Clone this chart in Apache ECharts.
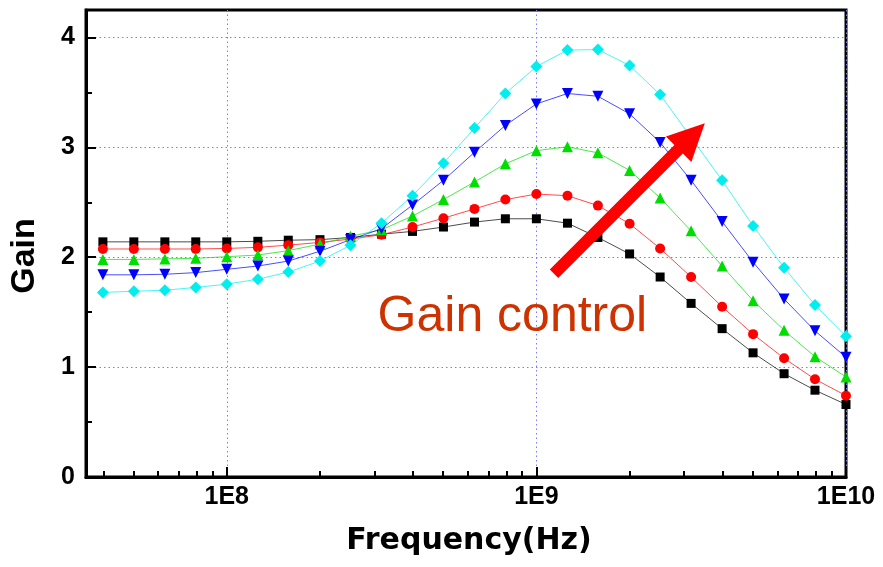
<!DOCTYPE html>
<html>
<head>
<meta charset="utf-8">
<script src="https://cdn.jsdelivr.net/npm/echarts@6/dist/echarts.min.js"></script>
<style>
html,body{margin:0;padding:0;background:#ffffff;}
#chart{width:883px;height:567px;}
</style>
</head>
<body>
<div id="chart"></div>
<script>
// ---- data ----
const frequency = [3.98e7, 5.01e7, 6.31e7, 7.94e7, 1.0e8, 1.26e8, 1.58e8, 2.0e8, 2.51e8, 3.16e8,
                   3.98e8, 5.01e8, 6.31e8, 7.94e8, 1.0e9, 1.26e9, 1.58e9, 2.0e9, 2.51e9, 3.16e9,
                   3.98e9, 5.01e9, 6.31e9, 7.94e9, 1.0e10];
const gainBlack = [2.14, 2.14, 2.14, 2.14, 2.14, 2.145, 2.155, 2.16, 2.18, 2.21,
                   2.235, 2.275, 2.32, 2.35, 2.35, 2.31, 2.18, 2.03, 1.82, 1.58,
                   1.35, 1.13, 0.94, 0.79, 0.66];
const gainRed   = [2.075, 2.075, 2.075, 2.075, 2.08, 2.09, 2.11, 2.135, 2.165, 2.205,
                   2.275, 2.355, 2.44, 2.525, 2.575, 2.56, 2.47, 2.305, 2.08, 1.82,
                   1.55, 1.30, 1.08, 0.89, 0.74];
const gainGreen = [1.98, 1.98, 1.985, 1.99, 2.005, 2.02, 2.06, 2.12, 2.19, 2.25,
                   2.375, 2.525, 2.685, 2.85, 2.97, 3.005, 2.95, 2.79, 2.54, 2.24,
                   1.92, 1.605, 1.335, 1.095, 0.91];
const gainBlue  = [1.84, 1.84, 1.845, 1.86, 1.89, 1.92, 1.965, 2.055, 2.16, 2.26,
                   2.475, 2.70, 2.955, 3.20, 3.395, 3.49, 3.465, 3.305, 3.045, 2.70,
                   2.325, 1.955, 1.62, 1.33, 1.09];
const gainCyan  = [1.68, 1.69, 1.70, 1.725, 1.755, 1.80, 1.865, 1.965, 2.11, 2.31,
                   2.56, 2.855, 3.175, 3.49, 3.735, 3.885, 3.89, 3.745, 3.48, 3.09,
                   2.70, 2.285, 1.905, 1.565, 1.28];
const xMajorTicks = [1e8, 1e9, 1e10];
const xMinorTicks = [4e7, 5e7, 6e7, 7e7, 8e7, 9e7,
                     2e8, 3e8, 4e8, 5e8, 6e8, 7e8, 8e8, 9e8,
                     2e9, 3e9, 4e9, 5e9, 6e9, 7e9, 8e9, 9e9];
const yMajorTicks = [0, 1, 2, 3, 4];
const yMinorTicks = [0.5, 1.5, 2.5, 3.5];
const arrowFrom = [1.14e9, 1.85];
const arrowTo = [3.5e9, 3.22];
const annotationText = 'Gain control';
const annotationAt = [3.07e8, 1.453];

// ---- chart ----
const chart = echarts.init(document.getElementById('chart'), null, {renderer: 'canvas'});
const labelFont = {fontFamily: 'Liberation Sans', fontWeight: 'bold', fontSize: 25, color: '#000'};
const gridLine = {show: true, lineStyle: {color: '#7a7aff', type: [1.5, 3], width: 1}};
const xMin = 3.51e7, xMax = 1e10, yMin = 0, yMax = 4.25;

function pairs(ys) { return frequency.map((f, i) => [f, ys[i]]); }

function mkSeries(name, ys, color, symbol, size, rotate) {
  return {
    name: name, type: 'line', xAxisIndex: 0, yAxisIndex: 0,
    data: pairs(ys), symbol: symbol, symbolSize: size, symbolRotate: rotate || 0,
    showAllSymbol: true,
    itemStyle: {color: color},
    lineStyle: {color: color, width: 1, opacity: 0.7},
    emphasis: {disabled: true}, animation: false
  };
}

const option = {
  animation: false,
  backgroundColor: '#ffffff',
  grid: {left: 85, right: 37, top: 10, bottom: 90, show: true, borderColor: '#000', borderWidth: 3, backgroundColor: 'transparent'},
  xAxis: [
    {
      type: 'log', logBase: 10, min: xMin, max: xMax, position: 'bottom',
      axisLine: {show: true, lineStyle: {color: '#000', width: 3}},
      axisTick: {show: true, inside: true, length: 10, lineStyle: {color: '#000', width: 2}, customValues: xMajorTicks},
      axisLabel: Object.assign({show: true, margin: 8, customValues: xMajorTicks,
        formatter: v => '1E' + Math.round(Math.log10(v))}, labelFont),
      splitLine: gridLine,
      minorTick: {show: false}, minorSplitLine: {show: false},
      name: 'Frequency(Hz)', nameLocation: 'middle', nameGap: 49,
      nameTextStyle: {fontFamily: 'DejaVu Sans', fontWeight: 'bold', fontSize: 30, color: '#000', padding: [0, 0, 0, 6]}
    },
    {
      type: 'log', logBase: 10, min: xMin, max: xMax, position: 'bottom',
      axisLine: {show: false},
      axisTick: {show: true, inside: true, length: 6, lineStyle: {color: '#000', width: 2}, customValues: xMinorTicks},
      axisLabel: {show: false}, splitLine: {show: false}
    }
  ],
  yAxis: [
    {
      type: 'value', min: yMin, max: yMax, position: 'left',
      axisLine: {show: true, lineStyle: {color: '#000', width: 3}},
      axisTick: {show: true, inside: true, length: 10, lineStyle: {color: '#000', width: 2}, customValues: yMajorTicks},
      axisLabel: Object.assign({show: true, margin: 11, customValues: yMajorTicks}, labelFont),
      splitLine: gridLine,
      name: 'Gain', nameLocation: 'middle', nameGap: 44, nameRotate: 90,
      nameTextStyle: {fontFamily: 'Liberation Sans', fontWeight: 'bold', fontSize: 34, color: '#000', padding: [0, 25, 0, 0]}
    },
    {
      type: 'value', min: yMin, max: yMax, position: 'left',
      axisLine: {show: false},
      axisTick: {show: true, inside: true, length: 6, lineStyle: {color: '#000', width: 2}, customValues: yMinorTicks},
      axisLabel: {show: false}, splitLine: {show: false}
    }
  ],
  series: [
    mkSeries('S1', gainBlack, '#000000', 'rect', 9),
    mkSeries('S2', gainRed, '#ff0000', 'circle', 10),
    mkSeries('S3', gainGreen, '#00dd00', 'triangle', 11),
    mkSeries('S4', gainBlue, '#0000ff', 'triangle', 11, 180),
    mkSeries('S5', gainCyan, '#00eeee', 'diamond', 12)
  ]
};
chart.setOption(option);

// ---- annotations positioned through the axes ----
const toPx = p => chart.convertToPixel({xAxisIndex: 0, yAxisIndex: 0}, p);
const T = toPx(arrowFrom), P = toPx(arrowTo);
const dx = P[0] - T[0], dy = P[1] - T[1], len = Math.hypot(dx, dy);
const ux = dx / len, uy = dy / len, nx = -uy, ny = ux;
const headLen = 37, headHalf = 18, shaftHalf = 6;
const B = [P[0] - ux * headLen, P[1] - uy * headLen];
const poly = [
  [T[0] + nx * shaftHalf, T[1] + ny * shaftHalf],
  [B[0] + nx * shaftHalf, B[1] + ny * shaftHalf],
  [B[0] + nx * headHalf, B[1] + ny * headHalf],
  [P[0], P[1]],
  [B[0] - nx * headHalf, B[1] - ny * headHalf],
  [B[0] - nx * shaftHalf, B[1] - ny * shaftHalf],
  [T[0] - nx * shaftHalf, T[1] - ny * shaftHalf]
];
const A = toPx(annotationAt);
chart.setOption({
  graphic: [
    {type: 'polygon', shape: {points: poly}, style: {fill: '#ff0000'}, z: 100, silent: true},
    {type: 'text', x: A[0], y: A[1], z: 100, silent: true,
     style: {text: annotationText, fill: '#cc3300', font: '50px "Liberation Sans"', textAlign: 'left', textVerticalAlign: 'middle'}}
  ]
});
</script>
</body>
</html>
